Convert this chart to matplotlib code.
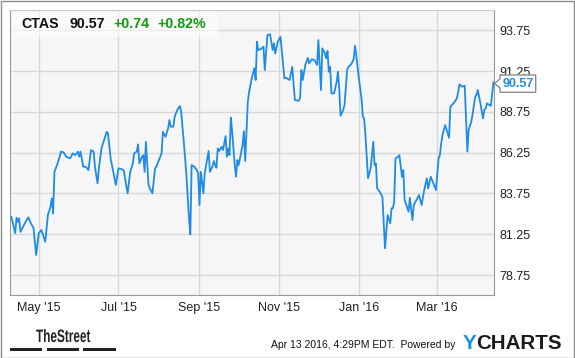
import matplotlib
matplotlib.use('Agg')
import matplotlib.pyplot as plt
import matplotlib.dates as mdates
import numpy as np
from matplotlib.patches import Rectangle, PathPatch, Polygon
from matplotlib.textpath import TextPath
from matplotlib.font_manager import FontProperties
from matplotlib.transforms import Affine2D

plt.rcParams['font.family'] = ['Liberation Sans', 'DejaVu Sans']

# ---- data ----
start_date = '2015-04-09'
day_offsets = [1, 4, 5, 6, 7, 8, 10, 12, 14, 16, 18, 20, 22, 24, 27, 29, 31, 32, 33, 34,
               36, 38, 39, 41, 43, 46, 48, 50, 52, 53, 54, 56, 58, 60, 62, 64, 65, 67, 68, 70,
               72, 74, 75, 77, 79, 81, 83, 85, 87, 90, 92, 94, 95, 97, 98, 99, 101, 102, 103, 104,
               106, 107, 109, 111, 112, 114, 116, 117, 119, 121, 122, 123, 125, 126, 128, 130, 131, 133, 135, 137,
               138, 139, 141, 143, 144, 145, 146, 148, 149, 152, 153, 155, 156, 157, 158, 159, 160, 162, 163, 165,
               166, 167, 168, 169, 170, 172, 173, 174, 175, 178, 179, 180, 182, 183, 185, 187, 188, 189, 190, 192,
               194, 195, 197, 199, 201, 202, 203, 205, 207, 210, 211, 214, 216, 218, 221, 222, 223, 224, 226, 228,
               229, 231, 233, 235, 236, 238, 239, 241, 242, 243, 244, 245, 246, 248, 250, 251, 252, 253, 255, 256,
               258, 259, 261, 263, 264, 265, 267, 269, 270, 271, 272, 274, 276, 278, 279, 280, 281, 283, 285, 287,
               289, 291, 292, 293, 294, 295, 297, 298, 300, 301, 302, 305, 306, 308, 309, 313, 315, 317, 319, 320,
               322, 326, 328, 329, 330, 331, 333, 336, 337, 340, 342, 343, 344, 346, 348, 350, 351, 353, 354, 356,
               357, 358, 360, 362, 363, 364, 365, 367, 368, 370]
prices = [82.32, 81.32, 82.26, 82.02, 82.22, 81.40, 81.71, 82.02, 82.29, 81.92, 81.63, 79.98, 81.31, 81.51, 80.79, 82.43, 82.94, 83.45, 82.53, 85.08,
          85.49, 86.00, 86.31, 86.27, 86.00, 85.90, 86.21, 86.10, 86.31, 86.00, 86.31, 85.39, 85.39, 85.18, 86.41, 86.31, 85.39, 84.37, 85.29, 86.51,
          87.02, 87.53, 87.43, 85.90, 85.08, 84.27, 85.29, 85.25, 85.18, 83.76, 85.08, 85.59, 86.21, 86.31, 86.76, 85.59, 86.00, 86.10, 85.08, 86.92,
          84.27, 84.06, 83.76, 85.29, 85.39, 85.80, 86.21, 87.53, 87.22, 87.74, 88.25, 87.84, 87.84, 88.45, 88.86, 89.11, 88.76, 86.92, 84.88, 82.23,
          81.24, 85.49, 85.39, 85.18, 84.98, 83.04, 85.08, 83.76, 84.98, 86.35, 85.08, 85.39, 85.74, 85.49, 85.33, 86.51, 86.35, 86.61, 86.41, 87.27,
          86.00, 86.51, 86.10, 88.39, 87.53, 85.49, 84.77, 85.80, 85.49, 86.72, 87.57, 85.74, 89.37, 89.98, 90.80, 91.42, 90.70, 93.05, 92.54, 92.60,
          92.74, 91.31, 93.46, 93.50, 92.54, 92.95, 92.33, 93.05, 93.35, 90.80, 90.84, 90.70, 91.51, 89.47, 89.43, 89.61, 91.31, 90.70, 91.62, 92.06,
          91.72, 91.97, 91.92, 91.62, 93.15, 90.09, 92.64, 92.33, 92.03, 92.48, 91.21, 91.51, 89.88, 89.88, 90.59, 91.21, 90.09, 88.51, 88.86, 89.17,
          91.31, 91.51, 91.66, 91.97, 92.80, 92.23, 90.80, 89.58, 88.45, 88.35, 87.33, 84.68, 85.29, 86.92, 85.49, 85.59, 84.06, 83.85, 83.55, 80.39,
          82.43, 81.92, 82.84, 82.84, 83.24, 85.90, 86.00, 86.10, 84.77, 85.18, 83.35, 82.63, 83.49, 82.12, 83.04, 83.65, 83.04, 83.96, 84.68, 84.06,
          84.77, 83.96, 85.90, 86.10, 86.82, 87.33, 87.94, 87.16, 89.06, 89.33, 89.58, 89.98, 90.44, 90.29, 90.35, 86.31, 87.64, 88.14, 88.60, 89.68,
          89.78, 90.09, 89.27, 88.35, 88.86, 88.96, 89.27, 89.17, 89.12, 90.57]

tick_dates = ['2015-05-01', '2015-07-01', '2015-09-01', '2015-11-01', '2016-01-01', '2016-03-01']
tick_labels = ["May '15", "Jul '15", "Sep '15", "Nov '15", "Jan '16", "Mar '16"]
y_ticks = [78.75, 81.25, 83.75, 86.25, 88.75, 91.25, 93.75]

ticker = 'CTAS'
last_price = '90.57'
change = '+0.74'
change_pct = '+0.82%'
stamp = 'Apr 13 2016, 4:29PM EDT.  Powered by'

BLUE = '#1e8ce6'
GREEN = '#109a10'

W, H = 575, 358
fig = plt.figure(figsize=(W / 100, H / 100), dpi=100)
fig.patch.set_facecolor('white')

def fx(x):
    return x / W

def fy(y):
    return 1 - y / H

ax = fig.add_axes([fx(10), fy(295), 484 / W, 285 / H])
ax.set_facecolor('#f6f6f6')

t0 = np.datetime64(start_date)
dates = t0 + np.array(day_offsets).astype('timedelta64[D]')
ax.plot(dates, prices, color=BLUE, lw=1.3, solid_joinstyle='round', zorder=3)

x0 = mdates.date2num(t0)
ax.set_xlim(x0, x0 + 370.4)
ax.set_ylim(77.53, 94.99)

ax.set_xticks([mdates.date2num(np.datetime64(d)) for d in tick_dates])
ax.set_xticklabels(tick_labels)
ax.set_yticks(y_ticks)
ax.set_yticklabels(['%.2f' % v for v in y_ticks])
ax.yaxis.tick_right()
ax.tick_params(axis='both', length=0, labelsize=9, labelcolor='#222222')
ax.tick_params(axis='x', pad=5)
ax.tick_params(axis='y', pad=4)
ax.grid(True, color='#d8d8d8', lw=1)
ax.set_axisbelow(True)
for s in ['left', 'right', 'bottom']:
    ax.spines[s].set_color('#999999')
ax.spines['top'].set_color('#cccccc')

# header box
fig.patches.append(Rectangle((fx(12), fy(37)), 206 / W, 25 / H, transform=fig.transFigure,
                             facecolor='white', alpha=0.55, edgecolor='none', zorder=5))
hdr = dict(fontsize=10.2, fontweight='bold', va='baseline', zorder=6)
fig.text(fx(21.5), fy(28.5), ticker, color='#111111', **hdr)
fig.text(fx(69), fy(28.5), last_price, color='#111111', **hdr)
fig.text(fx(113), fy(28.5), change, color=GREEN, **hdr)
fig.text(fx(157.5), fy(28.5), change_pct, color=GREEN, **hdr)

# last value flag
flag = [(494.5, 83.5), (500, 79), (500, 75), (535.7, 75), (535.7, 92.3), (500, 92.3), (500, 88)]
fig.patches.append(Polygon([(fx(a), fy(b)) for a, b in flag], closed=True, transform=fig.transFigure,
                           facecolor='white', edgecolor='#8c8c8c', lw=1, zorder=5))
fig.text(fx(518), fy(84), last_price, color=BLUE, fontsize=9, fontweight='bold',
         ha='center', va='center', zorder=6)

# footer: TheStreet logo
tp = TextPath((0, 0), 'TheStreet', size=1, prop=FontProperties(family='Liberation Sans', weight='bold'))
tr = Affine2D().scale(11.8 / W, 18.0 / H).translate(fx(36), fy(342)) + fig.transFigure
fig.patches.append(PathPatch(tp, transform=tr, facecolor='#222222', edgecolor='none'))
for a, b in [(10, 42.3), (46.7, 79), (83.3, 115.7)]:
    fig.patches.append(Rectangle((fx(a), fy(350.7)), (b - a) / W, 3 / H, transform=fig.transFigure,
                                 facecolor='#222222', edgecolor='none'))

fig.text(fx(271), fy(348), stamp, fontsize=7.5, color='#111111', va='baseline')
fig.text(fx(463), fy(349), 'Y', fontsize=14.8, fontweight='bold', color='#1b8fe0', va='baseline')
fig.text(fx(476), fy(349), 'CHARTS', fontsize=14.8, fontweight='bold', color='#1a1a1a', va='baseline')

# outer frame
fig.patches.append(Rectangle((0.5 / W, 0.5 / H), (W - 1.5) / W, (H - 1.5) / H, transform=fig.transFigure,
                             facecolor='none', edgecolor='#8a8a8a', lw=1))

fig.savefig('out.png', dpi=100)
